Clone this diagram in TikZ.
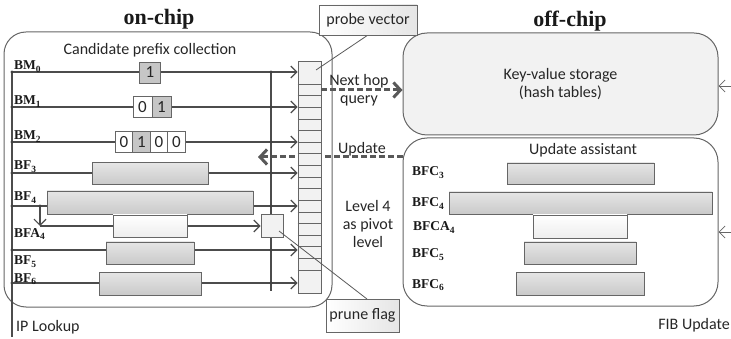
\documentclass[tikz,border=0pt]{standalone}
\usepackage{fontspec}
\setmainfont{Liberation Serif}
\newfontfamily\calibri{Carlito}
\usetikzlibrary{arrows.meta}

\begin{document}
\begin{tikzpicture}[x=1pt, y=-1pt,
  txt/.style={font=\calibri\fontsize{16}{18}\selectfont, text=black!85, align=center, inner sep=1pt},
  head/.style={font=\bfseries\fontsize{22}{24}\selectfont, text=black!90},
  lbl/.style={font=\bfseries\fontsize{13.5}{15}\selectfont, text=black!90, anchor=base west, inner sep=0},
  frame/.style={draw=black!60, line width=1pt, rounded corners=22pt, inner sep=0},
  bar/.style={draw=black!60, line width=0.8pt, top color=gray!20, bottom color=gray!42, inner sep=0, minimum height=22pt},
  barA/.style={bar, top color=white, bottom color=gray!14},
  bit/.style={draw=black!60, line width=0.8pt, inner sep=0, minimum height=21pt, font=\calibri\fontsize{17}{18}\selectfont, text=black!85},
  row/.style={draw=black!70, line width=1.2pt},
  tip/.style={-{Straight Barb[length=6pt,width=12pt]}},
  dot/.style={circle, fill=black!75, inner sep=0, minimum size=3.2pt},
  dasharrow/.style={draw=black!65, line width=3pt, dash pattern=on 6pt off 3pt, -{Straight Barb[length=7pt,width=15pt]}},
  callout/.style={draw=black!60, line width=0.8pt, left color=white, right color=gray!20, minimum height=30pt, inner xsep=5pt},
  thinarrow/.style={draw=black!60, line width=0.8pt, -{Straight Barb[length=6pt,width=12pt]}}
]
\useasboundingbox (0,0) rectangle (731,339);

% the three frames
\node[frame, minimum width=328pt, minimum height=275pt] (onchip) at (168,169.5) {};
\node[frame, fill=gray!10, rounded corners=24pt, minimum width=315pt, minimum height=102pt] (kv) at (560.5,84) {};
\node[frame, rounded corners=24pt, minimum width=315pt, minimum height=168pt] (ua) at (560.5,222) {};

% lookup line
\coordinate (lookT) at (12,72);
\coordinate (lookB) at (12,337);
\draw[row] (lookT) -- (lookB);

% update goes back under the probe vector
\coordinate (upd) at (258,157);
\draw[dasharrow] (upd -| ua.west) -- (upd);

% probe vector
\node[draw=black!60, line width=0.8pt, fill=gray!10, inner sep=0, minimum width=23pt, minimum height=232pt] (vec) at (309.5,177) {};
\foreach \k in {0,...,16}
  \draw[black!60, line width=0.7pt] (vec.west |- 0,{84+\k*11.625}) -- (vec.east |- 0,{84+\k*11.625});

% rows into the probe vector
\coordinate (busT) at (271,72);
\coordinate (busB) at (271,291);
\draw[row] (busT) -- (busB);
\foreach \y [count=\i] in {72,107,142,173,206,250,283}{
  \coordinate (r\i) at (12,\y);
  \draw[row,tip] (r\i) -- (r\i -| vec.west);
  \node[dot] at (r\i) {};
  \node[dot] at (r\i -| busT) {};
}

% level 4 auxiliary filter
\node[draw=black!60, line width=0.8pt, fill=gray!10, inner sep=0, minimum width=22pt, minimum height=23pt] (prn) at (272,225.5) {};
\coordinate (fa) at (40,206);
\coordinate (faB) at (40,226);
\draw[row,tip] (fa) -- (faB);
\node[dot] at (fa) {};
\draw[row,tip] (faB) -- (faB -| prn.west);

% bit maps
\node[bit, fill=gray!45, minimum width=21pt] (bm0) at (150,72.5) {1};
\node[bit, fill=white, minimum width=19pt] (bm1a) at (142.5,107) {0};
\node[bit, fill=gray!45, minimum width=19pt] (bm1b) at (161.5,107) {1};
\node[bit, fill=white, minimum width=17.5pt] (bm2a) at (124,142) {0};
\node[bit, fill=gray!45, minimum width=17.5pt] (bm2b) at (141.5,142) {1};
\node[bit, fill=white, minimum width=17.5pt] (bm2c) at (159,142) {0};
\node[bit, fill=white, minimum width=17.5pt] (bm2d) at (176.5,142) {0};

% bloom filters, on-chip
\node[bar, minimum width=116pt] (bf3) at (150,173.5) {};
\node[bar, minimum width=206pt, minimum height=23pt] (bf4) at (150,202.5) {};
\node[barA, minimum width=74pt] (bfa4) at (150,226) {};
\node[bar, minimum width=88pt] (bf5) at (150,253) {};
\node[bar, minimum width=102pt, minimum height=23pt] (bf6) at (150,283.5) {};

% bloom filters, off-chip
\node[bar, minimum width=147pt, minimum height=21pt] (bfc3) at (580.5,173.5) {};
\node[bar, minimum width=263pt] (bfc4) at (580.5,203) {};
\node[barA, minimum width=94pt, minimum height=23pt] (bfca4) at (580,226.5) {};
\node[bar, minimum width=112pt] (bfc5) at (580,253) {};
\node[bar, minimum width=128pt, minimum height=23pt] (bfc6) at (580,283.5) {};

% next hop query
\coordinate (hop) at (321,90);
\draw[dasharrow] (hop) -- (hop -| kv.west);

% callouts
\coordinate (pvIn) at (316,70);
\coordinate (pfIn) at (279,231);
\draw[black!65, line width=0.8pt] (368,35) -- (pvIn);
\draw[black!65, line width=0.8pt] (367,299) -- (pfIn);
\node[callout, txt, minimum width=98pt] (pv) at (368,20) {probe vector};
\node[callout, txt, minimum width=73pt, minimum height=33pt] (pf) at (362.5,315.5) {prune flag};

% inputs from the right
\coordinate (kvIn) at (731,86);
\coordinate (fibIn) at (731,232);
\draw[thinarrow] (kvIn) -- (kvIn -| kv.east);
\draw[thinarrow] (fibIn) -- (fibIn -| ua.east);

% texts
\node[head] (on) at (159,19) {on-chip};
\node[head] (off) at (570,21) {off-chip};
\node[txt] (cand) at (150,50) {Candidate prefix collection};
\node[txt] (hopq) at (359,90) {Next hop\\query};
\node[txt] (updt) at (362,149) {Update};
\node[txt] (pivot) at (368,224) {Level 4\\as pivot\\level};
\node[txt] (kvt) at (kv.center) {Key-value storage\\(hash tables)};
\node[txt] (uat) at (583,150) {Update assistant};
\node[txt, anchor=west] (ipl) at (15,327) {IP Lookup};
\node[txt, anchor=east] (fibu) at (731,325) {FIB Update};

% level names
\node[lbl] at (14,70) {BM\textsubscript{0}};
\node[lbl] at (14,105) {BM\textsubscript{1}};
\node[lbl] at (14,140) {BM\textsubscript{2}};
\node[lbl] at (14,170) {BF\textsubscript{3}};
\node[lbl] at (14,201) {BF\textsubscript{4}};
\node[lbl] at (14,237) {BFA\textsubscript{4}};
\node[lbl] at (14,265) {BF\textsubscript{5}};
\node[lbl] at (14,282) {BF\textsubscript{6}};
\node[lbl] at (412,176) {BFC\textsubscript{3}};
\node[lbl] at (412,207) {BFC\textsubscript{4}};
\node[lbl] at (413,231) {BFCA\textsubscript{4}};
\node[lbl] at (412,258) {BFC\textsubscript{5}};
\node[lbl] at (412,288) {BFC\textsubscript{6}};
\end{tikzpicture}
\end{document}
